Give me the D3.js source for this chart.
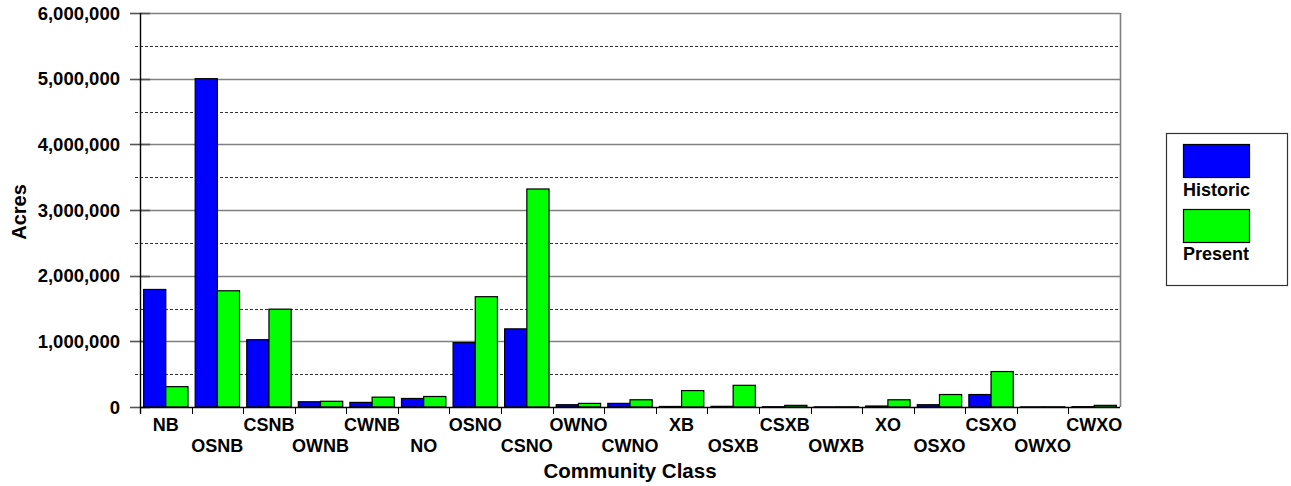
<!DOCTYPE html>
<html>
<head>
<meta charset="utf-8">
<script src="https://cdn.jsdelivr.net/npm/d3@7"></script>
<style>
  body { margin: 0; background: #fff; }
  svg { display: block; }
  text { font-family: "Liberation Sans", Arial, sans-serif; font-weight: bold; fill: #000; }
</style>
</head>
<body>
<svg id="chart" width="1291" height="486"></svg>
<script>
const categories = ["NB","OSNB","CSNB","OWNB","CWNB","NO","OSNO","CSNO","OWNO","CWNO","XB","OSXB","CSXB","OWXB","XO","OSXO","CSXO","OWXO","CWXO"];
const seriesNames = ["Historic","Present"];
const historic = [1790000,5000000,1025000,80000,70000,130000,980000,1190000,35000,55000,8000,10000,4000,2000,15000,35000,190000,2000,5000];
const present  = [310000,1770000,1490000,87000,150000,160000,1680000,3320000,55000,110000,250000,330000,25000,3000,110000,190000,540000,3000,25000];
const yTicks = [0,1000000,2000000,3000000,4000000,5000000,6000000];
const yMinorTicks = [500000,1500000,2500000,3500000,4500000,5500000];
const colors = ["#0000ff","#00ff00"];

const svg = d3.select("#chart");
const L = 140, R = 1120, T = 13, B = 407;

const x = d3.scaleBand().domain(categories).range([L, R]).paddingInner(0).paddingOuter(0);
const bw = x.bandwidth();
const xs = d3.scaleBand().domain(seriesNames).range([3.6, bw - 3.6]).padding(0);
const y = d3.scaleLinear().domain([0, 6000000]).range([B, T]);

// minor gridlines (dashed)
svg.append("g").selectAll("line").data(yMinorTicks).join("line")
  .attr("x1", L - 5).attr("x2", R)
  .attr("y1", d => Math.round(y(d)) + 0.5).attr("y2", d => Math.round(y(d)) + 0.5)
  .attr("stroke", "#000").attr("stroke-width", 0.8).attr("stroke-dasharray", "3,2");

// major gridlines
svg.append("g").selectAll("line").data(yTicks.filter(d => d > 0)).join("line")
  .attr("x1", L).attr("x2", R)
  .attr("y1", d => Math.round(y(d)) + 0.5).attr("y2", d => Math.round(y(d)) + 0.5)
  .attr("stroke", "#808080").attr("stroke-width", 1.6);

// major ticks on left
svg.append("g").selectAll("line").data(yTicks).join("line")
  .attr("x1", L - 10).attr("x2", L + 10)
  .attr("y1", d => Math.round(y(d)) + 0.5).attr("y2", d => Math.round(y(d)) + 0.5)
  .attr("stroke", "#555").attr("stroke-width", 1.6);

// right border
svg.append("line").attr("x1", R + 0.5).attr("x2", R + 0.5).attr("y1", y(6000000)).attr("y2", B)
  .attr("stroke", "#808080").attr("stroke-width", 1.6);

// bars
const groups = svg.append("g").selectAll("g").data(categories).join("g")
  .attr("transform", d => `translate(${x(d)},0)`);
groups.selectAll("rect").data((d, i) => [
    {s: "Historic", v: historic[i]},
    {s: "Present", v: present[i]}
  ]).join("rect")
  .attr("x", d => xs(d.s))
  .attr("width", xs.bandwidth())
  .attr("y", d => y(d.v))
  .attr("height", d => B - y(d.v))
  .attr("fill", (d, i) => colors[i])
  .attr("stroke", "#000").attr("stroke-width", 1.2);

// x axis baseline
svg.append("line").attr("x1", L).attr("x2", R).attr("y1", B + 0.5).attr("y2", B + 0.5)
  .attr("stroke", "#000").attr("stroke-width", 1.4);
// y axis line
svg.append("line").attr("x1", L + 0.5).attr("x2", L + 0.5).attr("y1", T).attr("y2", B + 7)
  .attr("stroke", "#000").attr("stroke-width", 1.4);
// category boundary ticks
svg.append("g").selectAll("line").data(categories.slice(1)).join("line")
  .attr("x1", d => Math.round(x(d)) + 0.5).attr("x2", d => Math.round(x(d)) + 0.5)
  .attr("y1", B).attr("y2", B + 7)
  .attr("stroke", "#000").attr("stroke-width", 1);

// y tick labels
const fmt = d3.format(",");
svg.append("g").selectAll("text").data(yTicks).join("text")
  .attr("x", L - 20).attr("y", d => y(d) + 6.5)
  .attr("text-anchor", "end").attr("font-size", 18.5)
  .text(d => fmt(d));

// x tick labels (staggered)
svg.append("g").selectAll("text").data(categories).join("text")
  .attr("x", d => x(d) + bw / 2)
  .attr("y", (d, i) => i % 2 === 0 ? 431 : 452)
  .attr("text-anchor", "middle").attr("font-size", 18)
  .text(d => d);

// axis titles
svg.append("text").attr("x", (L + R) / 2).attr("y", 478)
  .attr("text-anchor", "middle").attr("font-size", 20.5).text("Community Class");
svg.append("text").attr("transform", `translate(26,${(T + B) / 2 + 2}) rotate(-90)`)
  .attr("text-anchor", "middle").attr("font-size", 20).text("Acres");

// legend
const lg = svg.append("g");
lg.append("rect").attr("x", 1166.5).attr("y", 133.5).attr("width", 121).attr("height", 152)
  .attr("fill", "#fff").attr("stroke", "#333").attr("stroke-width", 1.2);
seriesNames.forEach((s, i) => {
  lg.append("rect").attr("x", 1183.5).attr("y", 144.5 + i * 65).attr("width", 66).attr("height", 33)
    .attr("fill", colors[i]).attr("stroke", "#000").attr("stroke-width", 1.2);
  lg.append("text").attr("x", 1183).attr("y", 196 + i * 64).attr("font-size", 18).text(s);
});
</script>
</body>
</html>
